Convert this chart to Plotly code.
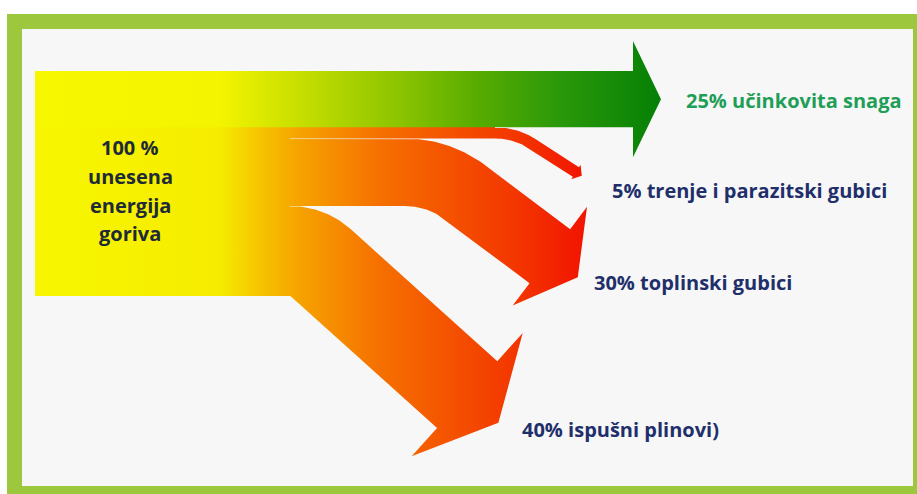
import numpy as np
import plotly.graph_objects as go

# ---------------- data ----------------
values = [25, 5, 30, 40]                      # % of fuel energy per output
names = ["učinkovita snaga", "trenje i parazitski gubici",
         "toplinski gubici", "ispušni plinovi)"]
source_lines = ["100 %", "unesena", "energija", "goriva"]
source_value = 100

# ---------------- layout / geometry (styles, not data) ----------------
W, H = 917, 494
X_START = 35          # left edge of the input band
Y_TOP = 71            # top of the input band
PX_PER_PCT = 2.25     # band thickness per percent

geom = [
    dict(x_bend=633, R=0,   angle=0,  L=0,   flare=30, head=28),   # useful power
    dict(x_bend=495, R=70,  angle=33, L=51,  flare=3,  head=7),    # friction
    dict(x_bend=405, R=100, angle=37, L=106, flare=28, head=35),   # heat
    dict(x_bend=290, R=46,  angle=42, L=197, flare=38, head=42),   # exhaust
]
label_pos = [(684, 100), (610, 190), (592, 282), (520, 429)]
label_colors = ["#1f9e57", "#1f2f6b", "#1f2f6b", "#1f2f6b"]
source_label_x = 130
source_label_y = [147, 176, 205, 233]

green_scale = [[0.0, "#f7f700"], [0.295, "#f4f400"], [0.42, "#c8df00"],
               [0.58, "#8cc400"], [0.70, "#5aad00"], [0.84, "#2a980a"],
               [1.0, "#058005"]]
green_grad = dict(start=35, stop=661)
orange_scale = [[0.0, "#f7f700"], [0.333, "#f6ec00"], [0.405, "#f6c400"],
                [0.477, "#f6a200"], [0.62, "#f57000"], [0.748, "#f45200"],
                [0.874, "#f33400"], [1.0, "#f21200"]]
orange_grad = dict(start=35, stop=590)


def arrow_polygon(y_a, y_b, g):
    w = (y_b - y_a) / 2.0
    yc = (y_a + y_b) / 2.0
    th = np.radians(g["angle"])
    phis = np.linspace(0, th, 40) if th > 0 else np.array([0.0])
    cx = g["x_bend"] + g["R"] * np.sin(phis)
    cy = yc + g["R"] * (1 - np.cos(phis))
    nx, ny = np.sin(phis), -np.cos(phis)
    ex = cx[-1] + g["L"] * np.cos(th)
    ey = cy[-1] + g["L"] * np.sin(th)
    cx = np.concatenate([[X_START], cx, [ex]])
    cy = np.concatenate([[yc], cy, [ey]])
    nx = np.concatenate([[0.0], nx, [np.sin(th)]])
    ny = np.concatenate([[-1.0], ny, [-np.cos(th)]])
    tx, ty = cx + w * nx, cy + w * ny
    bx, by = cx - w * nx, cy - w * ny
    ws = w + g["flare"]
    hx = [ex + ws * np.sin(th), ex + g["head"] * np.cos(th), ex - ws * np.sin(th)]
    hy = [ey - ws * np.cos(th), ey + g["head"] * np.sin(th), ey + ws * np.cos(th)]
    xs = np.concatenate([tx, hx, bx[::-1], [tx[0]]])
    ys = np.concatenate([ty, hy, by[::-1], [ty[0]]])
    return xs, ys


# band boundaries from the data
bounds = [Y_TOP]
for v in values:
    bounds.append(bounds[-1] + v * PX_PER_PCT)

fig = go.Figure()

# seam underlays (hide anti-aliasing seams between adjacent bands)
for i in range(1, len(values)):
    yb = bounds[i]
    if i == 1:
        x_end = geom[1]["x_bend"]
    else:
        x_end = min(geom[i]["x_bend"], geom[i + 1]["x_bend"]) if i + 1 < len(geom) else geom[i]["x_bend"]
    xs = [X_START, x_end, x_end, X_START, X_START]
    ys = [yb - 1.8, yb - 1.8, yb + 1.8, yb + 1.8, yb - 1.8]
    fig.add_trace(go.Scatter(
        x=xs, y=ys, mode="lines", fill="toself", line=dict(width=0),
        fillgradient=dict(type="horizontal", colorscale=orange_scale, **orange_grad),
        hoverinfo="skip", showlegend=False))

# branches drawn bottom-up, useful power last
for i in reversed(range(len(values))):
    xs, ys = arrow_polygon(bounds[i], bounds[i + 1], geom[i])
    if i == 0:
        grad = dict(type="horizontal", colorscale=green_scale, **green_grad)
    else:
        grad = dict(type="horizontal", colorscale=orange_scale, **orange_grad)
    fig.add_trace(go.Scatter(
        x=xs, y=ys, mode="lines", fill="toself", line=dict(width=0),
        fillgradient=grad, hoverinfo="skip", showlegend=False))

annotations = []
for line, y in zip(source_lines, source_label_y):
    annotations.append(dict(
        x=source_label_x, y=y, text="<b>%s</b>" % line, showarrow=False,
        xanchor="center", yanchor="middle",
        font=dict(family="Open Sans", size=20, color="#1e2a38")))
for v, n, (lx, ly), c in zip(values, names, label_pos, label_colors):
    annotations.append(dict(
        x=lx, y=ly, text="<b>%d%% %s</b>" % (v, n), showarrow=False,
        xanchor="left", yanchor="middle",
        font=dict(family="Open Sans", size=20, color=c)))

shapes = [
    dict(type="rect", x0=7, y0=14, x1=930, y1=510, layer="below",
         fillcolor="#9dc83e", line=dict(width=0)),
    dict(type="rect", x0=22, y0=29, x1=913, y1=486, layer="below",
         fillcolor="#f7f7f7", line=dict(width=0)),
]

fig.update_layout(
    width=W, height=H, margin=dict(l=0, r=0, t=0, b=0),
    paper_bgcolor="white", plot_bgcolor="white",
    xaxis=dict(range=[0, W], visible=False, fixedrange=True),
    yaxis=dict(range=[H, 0], visible=False, fixedrange=True),
    shapes=shapes, annotations=annotations, showlegend=False,
)

fig.write_html(
    "out.html",
    config={"displayModeBar": False},
    post_script="document.body.style.margin='0';document.body.style.overflow='hidden';",
)
